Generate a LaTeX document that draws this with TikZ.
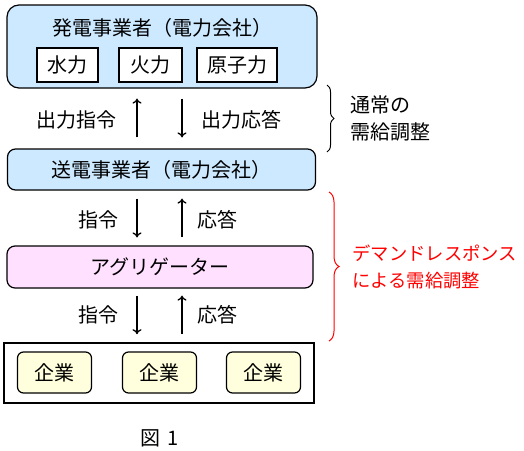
\documentclass[tikz,border=0pt]{standalone}
\usepackage{fontspec}
\setmainfont{Noto Sans CJK JP}
\usetikzlibrary{decorations.pathreplacing, arrows.meta}
\definecolor{genblue}{RGB}{204,233,255}
\definecolor{aggpink}{RGB}{255,224,255}
\definecolor{firmyellow}{RGB}{255,255,221}
\begin{document}
\begin{tikzpicture}[x=1pt, y=-1pt,
    every node/.style={font=\fontsize{20}{27}\selectfont},
    panel/.style={draw, line width=1.2pt, rounded corners=8pt, inner sep=0pt},
    unitbox/.style={draw, line width=1.2pt, fill=white, minimum height=34pt, inner sep=0pt},
    firmbox/.style={draw, line width=1.2pt, fill=firmyellow, rounded corners=6pt,
        minimum width=74pt, minimum height=41pt, inner sep=0pt},
    flow/.style={-{To[length=5pt,width=9pt]}, line width=1.3pt}]
    \useasboundingbox (0,0) rectangle (524,450);

    % Generators
    \node[panel, rounded corners=12pt, fill=genblue, minimum width=310pt, minimum height=83pt] (gen) at (162,46.5) {};
    \node (gentitle) at (162,28) {発電事業者（電力会社）};
    \node[unitbox, minimum width=61pt] (hydro) at (67.5,65) {水力};
    \node[unitbox, minimum width=63pt] (thermal) at (150.5,65) {火力};
    \node[unitbox, minimum width=80pt] (nuclear) at (237,65) {原子力};

    % Transmission, aggregator, companies
    \node[panel, fill=genblue, minimum width=308pt, minimum height=41pt] (grid) at (161.5,169.5) {送電事業者（電力会社）};
    \node[panel, fill=aggpink, minimum width=306pt, minimum height=42pt] (agg) at (160,267) {アグリゲーター};
    \node[draw, line width=1.6pt, minimum width=310pt, minimum height=60pt, inner sep=0pt] (users) at (159,373) {};
    \node[firmbox] (firm1) at (54.5,372.5) {企業};
    \node[firmbox] (firm2) at (159.5,372.5) {企業};
    \node[firmbox] (firm3) at (263.5,372.5) {企業};

    % Arrows
    \coordinate (lcol) at (137,0);
    \coordinate (rcol) at (182,0);
    \draw[flow, shorten <=11pt, shorten >=10pt] (grid.north -| lcol) -- (gen.south -| lcol);
    \draw[flow, shorten <=10pt, shorten >=11pt] (gen.south -| rcol) -- (grid.north -| rcol);
    \draw[flow, shorten <=8pt, shorten >=8pt] (grid.south -| lcol) -- (agg.north -| lcol);
    \draw[flow, shorten <=8pt, shorten >=8pt] (agg.north -| rcol) -- (grid.south -| rcol);
    \draw[flow, shorten <=7pt, shorten >=8pt] (agg.south -| lcol) -- (users.north -| lcol);
    \draw[flow, shorten <=8pt, shorten >=7pt] (users.north -| rcol) -- (agg.south -| rcol);
    \node (cmd1) at (76.5,120) {出力指令};
    \node (ans1) at (241,120) {出力応答};
    \node (cmd2) at (98,220) {指令};
    \node (ans2) at (217.5,220) {応答};
    \node (cmd3) at (98,315) {指令};
    \node (ans3) at (217.5,315) {応答};

    % Braces
    \draw[decorate, decoration={brace, amplitude=7pt}, line width=1pt] (327,85) -- (327,152);
    \node[anchor=west, align=left] (normal) at (347,118.5) {通常の\\需給調整};
    \draw[decorate, decoration={brace, amplitude=10pt}, red, line width=1pt] (329,192) -- (329,341);
    \node[anchor=west, align=left, red, font=\fontsize{18.3}{27}\selectfont] (dr) at (349,266.5) {デマンドレスポンス\\による需給調整};

    \node (fig) at (160,438) {図\hspace{0.35em}1};
\end{tikzpicture}
\end{document}
